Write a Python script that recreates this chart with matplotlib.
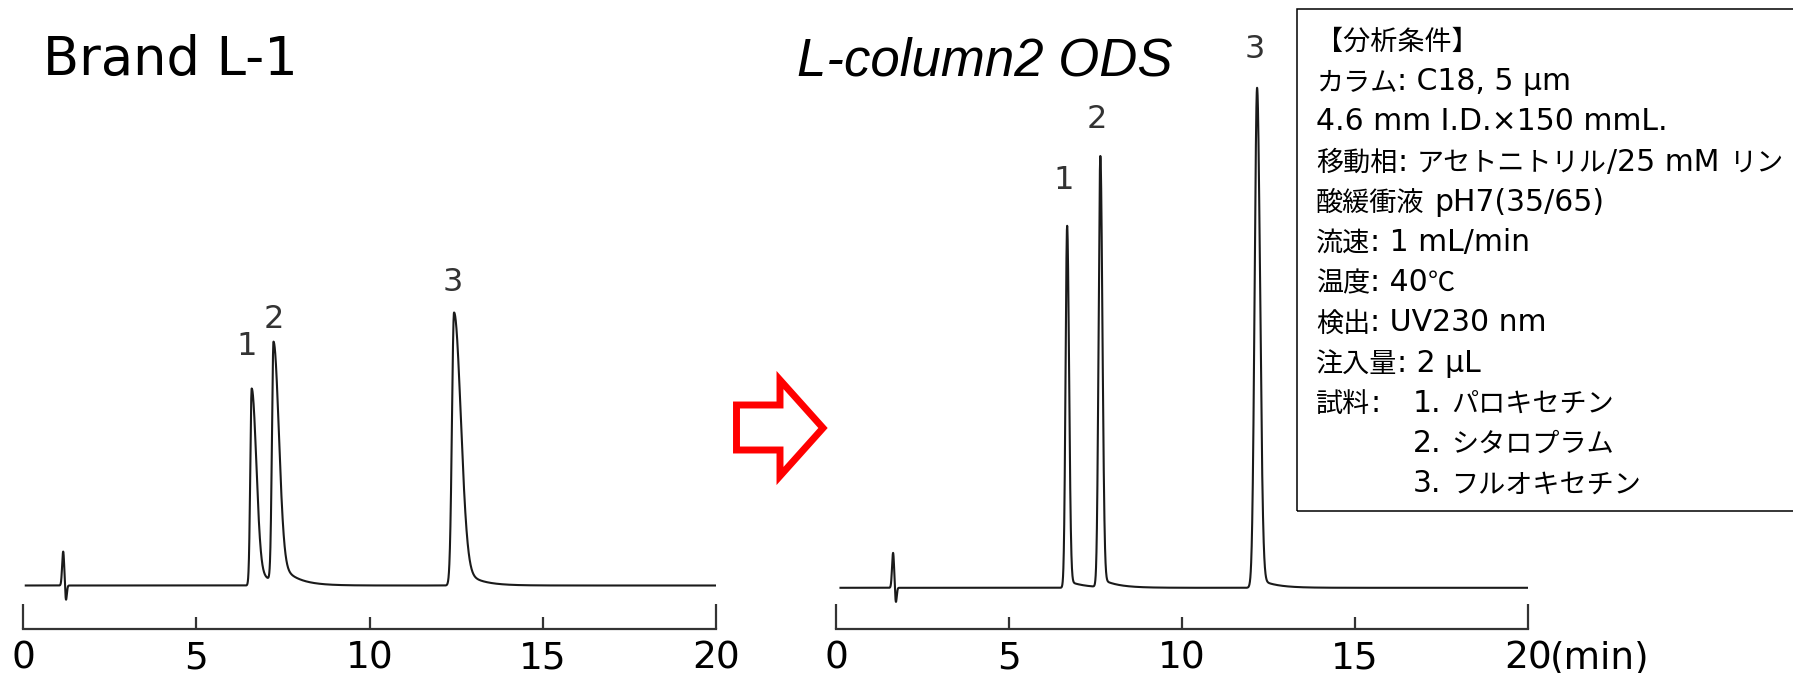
import numpy as np
import matplotlib
matplotlib.use("Agg")
import matplotlib.pyplot as plt
from matplotlib.patches import Polygon, Rectangle

W, H = 1793, 673

# ---- data (time in min, height in arbitrary units) ----
left_rt = [6.60, 7.23, 12.44]
left_height = [197, 239, 273]
left_sig_l = [0.040, 0.045, 0.060]
left_sig_r = [0.130, 0.150, 0.190]
left_tail = [0.10, 0.12, 0.10]

right_rt = [6.68, 7.64, 12.17]
right_height = [362, 431, 500]
right_sig_l = [0.045, 0.050, 0.070]
right_sig_r = [0.055, 0.060, 0.085]
right_tail = [0.02, 0.02, 0.02]

spike_rt = [1.16, 1.65]
spike_up = [34, 35]
spike_down = [15, 15]

peak_names = ["1", "2", "3"]
major_ticks = [0, 20]
minor_ticks = [5, 10, 15]

conditions = [
    "【分析条件】",
    "カラム: C18, 5 μm",
    "4.6 mm I.D.×150 mmL.",
    "移動相: アセトニトリル/25 mM リン",
    "酸緩衝液 pH7(35/65)",
    "流速: 1 mL/min",
    "温度: 40℃",
    "検出: UV230 nm",
    "注入量: 2 μL",
    "試料:",
]
samples = ["1. パロキセチン", "2. シタロプラム", "3. フルオキセチン"]


def trace(t, rts, hs, sl, sr, tails, t_spike, up, down):
    y = np.zeros_like(t)
    for rt, h, a, b, f in zip(rts, hs, sl, sr, tails):
        s = np.where(t < rt, a, b)
        g = np.exp(-0.5 * ((t - rt) / s) ** 2)
        tail = np.where(t > rt, f * np.exp(-(t - rt) / 0.45) * (1 - g), 0)
        y += h * (g + tail)
    y += up * np.exp(-0.5 * ((t - t_spike) / 0.03) ** 2)
    y -= down * np.exp(-0.5 * ((t - t_spike - 0.08) / 0.025) ** 2)
    return y


fig = plt.figure(figsize=(W / 100, H / 100), dpi=100)


def px(x, y):
    return x / W, 1 - y / H


def make_panel(x0, x20, base_px, rts, hs, sl, sr, tails, ts, up, down, labels_xy, t_start):
    ax = fig.add_axes([x0 / W, (H - 629) / H, (x20 - x0) / W, 629 / H])
    ax.patch.set_visible(False)
    t = np.linspace(t_start, 20, 8000)
    ax.plot(t, trace(t, rts, hs, sl, sr, tails, ts, up, down), color="#1a1a1a", lw=1.5)
    for name, (lx, ly) in zip(peak_names, labels_xy):
        ax.text(lx, ly, name, ha="center", va="center", fontsize=23, color="#333333")
    ax.set_xlim(0, 20)
    off = 629 - base_px
    ax.set_ylim(-off, 629 - off)
    for s in ["top", "left", "right"]:
        ax.spines[s].set_visible(False)
    ax.spines["bottom"].set_linewidth(1.6)
    ax.spines["bottom"].set_color("#333333")
    ax.set_yticks([])
    ax.set_xticks(major_ticks)
    ax.set_xticklabels([str(v) for v in major_ticks])
    ax.set_xticks(minor_ticks, minor=True)
    ax.set_xticklabels([str(v) for v in minor_ticks], minor=True)
    ax.tick_params(axis="x", which="major", direction="in", length=18, width=1.6,
                   color="#333333", labelsize=27, pad=8)
    ax.tick_params(axis="x", which="minor", direction="in", length=9, width=1.6,
                   color="#333333", labelsize=27, pad=8)
    return ax


make_panel(23, 716, 585.5, left_rt, left_height, left_sig_l, left_sig_r, left_tail,
           spike_rt[0], spike_up[0], spike_down[0],
           [(6.47, 239), (7.23, 266), (12.41, 303)], 0.08)
axr = make_panel(836, 1528, 587.8, right_rt, right_height, right_sig_l, right_sig_r, right_tail,
                 spike_rt[1], spike_up[1], spike_down[1],
                 [(6.58, 407), (7.54, 468), (12.10, 538)], 0.13)
axr.annotate("(min)", xy=(1, 0), xycoords="axes fraction", xytext=(16, -8),
             textcoords="offset points", ha="left", va="top", fontsize=27)

# titles
fig.text(*px(43, 75), "Brand L-1", fontsize=38, va="baseline", ha="left")
fig.text(*px(797, 75), "L-column2 ODS", fontsize=38, va="baseline", ha="left",
         family="Liberation Sans", style="italic")

# red arrow
arrow = [(736.5, 405), (780, 405), (780, 380), (823, 428), (780, 476), (780, 450), (736.5, 450)]
fig.patches.append(Polygon([px(x, y) for x, y in arrow], closed=True, transform=fig.transFigure,
                           facecolor="white", edgecolor="#ff0000", lw=5, joinstyle="miter"))

# condition box
fig.patches.append(Rectangle(px(1297, 511), (1805 - 1297) / W, (511 - 9) / H,
                             transform=fig.transFigure, fill=False, edgecolor="black", lw=1.1))

renderer = fig.canvas.get_renderer()
LATIN = dict(family="DejaVu Sans", fontsize=21.5)
CJK = dict(family="Noto Sans CJK JP", fontsize=19.5)
SPACE = 0.318 * 21.5 * 100 / 72


def is_cjk(c):
    return ord(c) > 0x2E7F or c in "℃"


def mixed_text(x, y, s):
    runs = []
    for c in s:
        k = is_cjk(c)
        if runs and runs[-1][1] == k:
            runs[-1][0] += c
        else:
            runs.append([c, k])
    for txt, k in runs:
        lead = len(txt) - len(txt.lstrip(" "))
        trail = len(txt) - len(txt.rstrip(" "))
        x += lead * SPACE
        core = txt.strip(" ")
        if core:
            t = fig.text(*px(x, y), core, va="baseline", ha="left", **(CJK if k else LATIN))
            x += t.get_window_extent(renderer).width
        x += trail * SPACE


pitch = 40.2
for i, line in enumerate(conditions):
    mixed_text(1316, 50 + i * pitch, line)
for i, line in enumerate(samples):
    mixed_text(1413, 50 + (len(conditions) - 1 + i) * pitch, line)

fig.savefig("out.png", dpi=100)
